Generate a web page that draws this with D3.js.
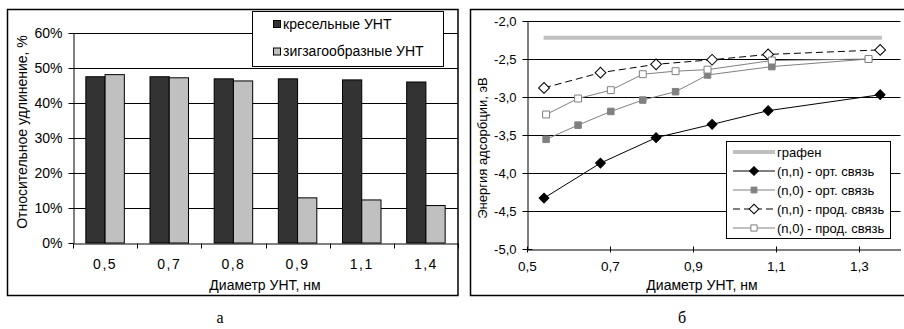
<!DOCTYPE html>
<html>
<head>
<meta charset="utf-8">
<script src="https://d3js.org/d3.v7.min.js"></script>
<style>
  body { margin: 0; background: #fff; }
  svg text { font-family: "Liberation Sans", Arial, sans-serif; fill: #000; }
</style>
</head>
<body>
<svg id="chart" width="904" height="329"></svg>
<script>
// panel а - relative elongation
var diameters = ['0,5', '0,7', '0,8', '0,9', '1,1', '1,4'];
var armchair = [47.5, 47.5, 46.9, 46.9, 46.6, 46.0];
var zigzag = [48.1, 47.2, 46.3, 12.9, 12.3, 10.7];
var pctTicks = [0, 10, 20, 30, 40, 50, 60];
var barNames = ['кресельные УНТ', 'зигзагообразные УНТ'];

// panel б - adsorption energy
var grapheneX = [0.54, 1.355];
var grapheneY = [-2.22, -2.22];
var nnX = [0.541, 0.677, 0.811, 0.946, 1.081, 1.351];
var nnOrt = [-4.33, -3.87, -3.535, -3.36, -3.18, -2.97];
var nnProd = [-2.88, -2.68, -2.57, -2.51, -2.44, -2.38];
var n0X = [0.546, 0.623, 0.702, 0.779, 0.858, 0.935, 1.09, 1.323];
var n0Ort = [-3.557, -3.37, -3.19, -3.04, -2.93, -2.71, -2.60, -2.50];
var n0Prod = [-3.23, -3.02, -2.91, -2.70, -2.66, -2.64, -2.52, -2.50];
var energyTicks = [-5, -4.5, -4, -3.5, -3, -2.5, -2];
var diamTicks = [0.5, 0.7, 0.9, 1.1, 1.3];
var lineNames = ['графен', '(n,n) - орт. связь', '(n,0) - орт. связь', '(n,n) - прод. связь', '(n,0) - прод. связь'];

var svg = d3.select('#chart');
var comma = function(f){ return function(d){ return d3.format(f)(d).replace('.', ',').replace('−', '-'); }; };

// ---------- panel а ----------
svg.append('rect').attr('x', 7.5).attr('y', 9.5).attr('width', 450.5).attr('height', 286)
  .attr('fill', 'none').attr('stroke', '#000').attr('stroke-width', 1.5);

var x = d3.scaleBand().domain(diameters).range([73, 458]);
var bw = x.bandwidth();
var x1 = d3.scaleBand().domain([0, 1]).range([bw / 2 - 0.3 * bw, bw / 2 + 0.3 * bw]);
var y = d3.scaleLinear().domain([0, 60]).range([243, 33]);

var gA = svg.append('g');

// gridlines
gA.selectAll('.grid').data(pctTicks.slice(1)).enter().append('line')
  .attr('x1', 73).attr('x2', 458)
  .attr('y1', function(d){ return Math.round(y(d)) + 0.5; })
  .attr('y2', function(d){ return Math.round(y(d)) + 0.5; })
  .attr('stroke', '#000').attr('stroke-width', 1);

// bars
var colors = ['#333333', '#c0c0c0'];
[armchair, zigzag].forEach(function(series, i){
  gA.selectAll('.bar' + i).data(series).enter().append('rect')
    .attr('x', function(d, j){ return x(diameters[j]) + x1(i); })
    .attr('y', function(d){ return y(d); })
    .attr('width', x1.bandwidth())
    .attr('height', function(d){ return y(0) - y(d); })
    .attr('fill', colors[i]).attr('stroke', '#000').attr('stroke-width', 1);
});

// y axis
var yAxis = gA.append('g').attr('transform', 'translate(73.5,0)')
  .call(d3.axisLeft(y).tickValues(pctTicks).tickSize(5).tickSizeOuter(0).tickPadding(6)
    .tickFormat(function(d){ return d + '%'; }));
yAxis.selectAll('text').attr('font-size', 14);

// x axis: labels centred, ticks at band edges
var xAxis = gA.append('g').attr('transform', 'translate(0,243.5)')
  .call(d3.axisBottom(x).tickSize(0).tickPadding(16));
xAxis.selectAll('text').attr('font-size', 14).attr('letter-spacing', 1.5);
gA.selectAll('.xt').data(diameters.concat([null])).enter().append('line')
  .attr('x1', function(d, j){ return Math.round(73 + j * bw) + 0.5; })
  .attr('x2', function(d, j){ return Math.round(73 + j * bw) + 0.5; })
  .attr('y1', 243.5).attr('y2', 248.5).attr('stroke', '#000');

gA.append('text').attr('x', 265).attr('y', 290).attr('text-anchor', 'middle')
  .attr('font-size', 14).text('Диаметр УНТ, нм');
gA.append('text').attr('transform', 'translate(22,132) rotate(-90)')
  .attr('text-anchor', 'middle').attr('dy', '0.35em').attr('font-size', 14)
  .text('Относительное удлинение, %');

// legend а
var legA = gA.append('g');
legA.append('rect').attr('x', 252.5).attr('y', 11.5).attr('width', 191).attr('height', 55)
  .attr('fill', '#fff').attr('stroke', '#000');
barNames.forEach(function(name, i){
  var cy = 24 + i * 27.5;
  legA.append('rect').attr('x', 273.5).attr('y', cy - 3.5).attr('width', 7).attr('height', 7)
    .attr('fill', colors[i]).attr('stroke', '#000');
  legA.append('text').attr('x', 283).attr('y', cy).attr('dy', '0.35em')
    .attr('font-size', 14).text(name);
});

svg.append('text').attr('x', 220).attr('y', 323).attr('text-anchor', 'middle')
  .style('font-family', '"Liberation Serif", serif').attr('font-size', 16).text('а');

// ---------- panel б ----------
svg.append('rect').attr('x', 470.5).attr('y', 9.5).attr('width', 440).attr('height', 286)
  .attr('fill', 'none').attr('stroke', '#000').attr('stroke-width', 1.5);

var xs = d3.scaleLinear().domain([0.5, 1.4]).range([527, 900.5]);
var ys = d3.scaleLinear().domain([-5, -2]).range([249, 21]);
var gB = svg.append('g');

gB.selectAll('.grid').data(energyTicks.slice(1)).enter().append('line')
  .attr('x1', 527).attr('x2', 900.5)
  .attr('y1', function(d){ return Math.round(ys(d)) + 0.5; })
  .attr('y2', function(d){ return Math.round(ys(d)) + 0.5; })
  .attr('stroke', '#000');

var yAxB = gB.append('g').attr('transform', 'translate(527.5,0)')
  .call(d3.axisLeft(ys).tickValues(energyTicks).tickSize(5).tickSizeOuter(0).tickPadding(6).tickFormat(comma('.1f')));
yAxB.selectAll('.tick line').attr('x2', 5).attr('x1', -5);
yAxB.selectAll('text').attr('font-size', 13);

var xAxB = gB.append('g').attr('transform', 'translate(0,249.5)')
  .call(d3.axisBottom(xs).tickValues(diamTicks).tickSize(3).tickSizeOuter(0).tickPadding(9).tickFormat(comma('.1f')));
xAxB.selectAll('.tick line').attr('y1', -3).attr('y2', 3);
xAxB.selectAll('text').attr('font-size', 13.5);

gB.append('text').attr('x', 702).attr('y', 290).attr('text-anchor', 'middle')
  .attr('font-size', 14).text('Диаметр УНТ, нм');
gB.append('text').attr('transform', 'translate(482,148) rotate(-90)')
  .attr('text-anchor', 'middle').attr('dy', '0.35em').attr('font-size', 13)
  .text('Энергия адсорбции, эВ');

function zip(xa, ya){ return xa.map(function(v, i){ return [v, ya[i]]; }); }
var line = d3.line().x(function(d){ return xs(d[0]); }).y(function(d){ return ys(d[1]); });

var series = [
  { pts: zip(grapheneX, grapheneY), stroke: '#c0c0c0', width: 4, dash: null, marker: null },
  { pts: zip(nnX, nnOrt), stroke: '#000', width: 1, dash: null, marker: 'diamond', fill: '#000', mstroke: '#000', size: 48 },
  { pts: zip(n0X, n0Ort), stroke: '#808080', width: 1, dash: null, marker: 'square', fill: '#808080', mstroke: '#808080', size: 42 },
  { pts: zip(nnX, nnProd), stroke: '#000', width: 1, dash: '7,4', marker: 'diamond', fill: '#fff', mstroke: '#000', size: 58 },
  { pts: zip(n0X, n0Prod), stroke: '#808080', width: 1, dash: null, marker: 'square', fill: '#fff', mstroke: '#808080', size: 48 }
];
// diamonds are squares turned by 45 degrees
var rot = { diamond: 45, square: 0 };

series.forEach(function(s){
  gB.append('path').attr('d', line(s.pts)).attr('fill', 'none')
    .attr('stroke', s.stroke).attr('stroke-width', s.width)
    .attr('stroke-dasharray', s.dash);
});
series.forEach(function(s){
  if (!s.marker) return;
  gB.selectAll(null).data(s.pts).enter().append('path')
    .attr('transform', function(d){ return 'translate(' + xs(d[0]) + ',' + ys(d[1]) + ') rotate(' + rot[s.marker] + ')'; })
    .attr('d', d3.symbol().type(d3.symbolSquare).size(s.size))
    .attr('fill', s.fill).attr('stroke', s.mstroke).attr('stroke-width', 1);
});

// legend б
var legB = gB.append('g');
legB.append('rect').attr('x', 726.5).attr('y', 141.5).attr('width', 164).attr('height', 97)
  .attr('fill', '#fff').attr('stroke', '#000');
series.forEach(function(s, i){
  var cy = 152 + i * 19;
  legB.append('line').attr('x1', 733).attr('x2', 775).attr('y1', cy).attr('y2', cy)
    .attr('stroke', s.stroke).attr('stroke-width', s.width).attr('stroke-dasharray', s.dash);
  if (s.marker) {
    legB.append('path').attr('transform', 'translate(754,' + cy + ') rotate(' + rot[s.marker] + ')')
      .attr('d', d3.symbol().type(d3.symbolSquare).size(s.size * 0.8))
      .attr('fill', s.fill).attr('stroke', s.mstroke);
  }
  legB.append('text').attr('x', 777).attr('y', cy).attr('dy', '0.35em')
    .attr('font-size', 13).text(lineNames[i]);
});

svg.append('text').attr('x', 682).attr('y', 323).attr('text-anchor', 'middle')
  .style('font-family', '"Liberation Serif", serif').attr('font-size', 16).text('б');
</script>
</body>
</html>
